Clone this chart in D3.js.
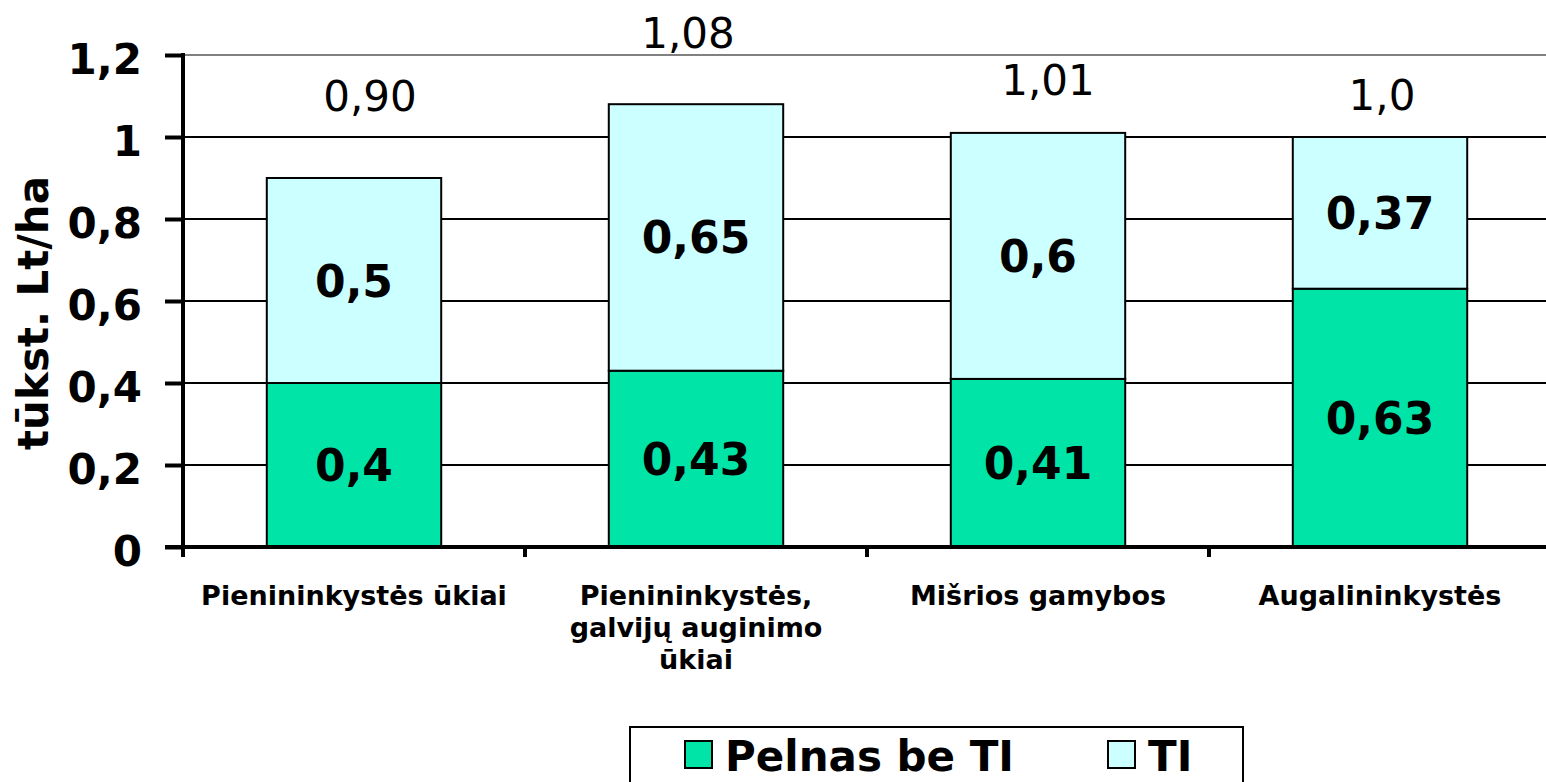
<!DOCTYPE html>
<html>
<head>
<meta charset="utf-8">
<script src="https://cdn.jsdelivr.net/npm/d3@7"></script>
<style>
  html, body { margin: 0; padding: 0; background: #fff; }
  svg { display: block; font-family: "DejaVu Sans", Verdana, sans-serif; }
</style>
</head>
<body>
<div id="container"></div>
<script>
/* DATA */
const categories = ["Pienininkystės ūkiai", "Pienininkystės,\ngalvijų auginimo\nūkiai", "Mišrios gamybos", "Augalininkystės"];
const pelnasBeTI = [0.4, 0.43, 0.41, 0.63];
const ti = [0.5, 0.65, 0.6, 0.37];
const pelnasLabels = ["0,4", "0,43", "0,41", "0,63"];
const tiLabels = ["0,5", "0,65", "0,6", "0,37"];
const totalLabels = ["0,90", "1,08", "1,01", "1,0"];
const yTicks = [0, 0.2, 0.4, 0.6, 0.8, 1, 1.2];
const yTickLabels = ["0", "0,2", "0,4", "0,6", "0,8", "1", "1,2"];
const seriesNames = ["Pelnas be TI", "TI"];

/* CONSTANTS */
const width = 1546, height = 782;
const colors = ["#00e4a8", "#ccffff"];
// hand-placed total labels in the original: [dx, gap above bar top]
const totalOffsets = [[16, 67], [-8, 56], [10, 38], [2, 27]];

const svg = d3.select("#container")
  .append("svg")
  .attr("width", width)
  .attr("height", height);

// scales
const x = d3.scaleBand()
  .domain(d3.range(categories.length))
  .range([183, 1551])
  .padding(0);
const barW = x.bandwidth() * 0.51;

const y = d3.scaleLinear()
  .domain([0, 1.2])
  .range([547, 55]);

// gridlines
svg.append("g")
  .selectAll("line")
  .data(yTicks.filter(d => d > 0))
  .join("line")
  .attr("x1", 183)
  .attr("x2", width)
  .attr("y1", d => y(d))
  .attr("y2", d => y(d))
  .attr("stroke", d => d === 1.2 ? "#808080" : "#000")
  .attr("stroke-width", 2);

// stacked bars
const rows = categories.map((c, i) => ({ i, pelnas: pelnasBeTI[i], ti: ti[i] }));
const stacked = d3.stack().keys(["pelnas", "ti"])(rows);
const segLabels = [pelnasLabels, tiLabels];

const layers = svg.append("g")
  .selectAll("g")
  .data(stacked)
  .join("g")
  .attr("fill", (d, k) => colors[k]);

layers.selectAll("rect")
  .data(d => d)
  .join("rect")
  .attr("x", d => x(d.data.i) + (x.bandwidth() - barW) / 2)
  .attr("y", d => y(d[1]))
  .attr("width", barW)
  .attr("height", d => y(d[0]) - y(d[1]))
  .attr("stroke", "#000")
  .attr("stroke-width", 2);

layers.each(function(layer, k) {
  d3.select(this).selectAll("text")
    .data(layer)
    .join("text")
    .attr("x", d => x(d.data.i) + x.bandwidth() / 2)
    .attr("y", d => (y(d[0]) + y(d[1])) / 2 + 16)
    .attr("text-anchor", "middle")
    .attr("fill", "#000")
    .attr("font-weight", "bold")
    .attr("font-size", 44)
    .text((d, i) => segLabels[k][i]);
});

// totals
svg.append("g")
  .selectAll("text")
  .data(rows)
  .join("text")
  .attr("x", d => x(d.i) + x.bandwidth() / 2 + totalOffsets[d.i][0])
  .attr("y", d => y(d.pelnas + d.ti) - totalOffsets[d.i][1])
  .attr("text-anchor", "middle")
  .attr("font-size", 42)
  .text(d => totalLabels[d.i]);

// y axis
const yAxis = d3.axisLeft(y)
  .tickValues(yTicks)
  .tickFormat((d, i) => yTickLabels[i])
  .tickSize(18)
  .tickPadding(23);

const gy = svg.append("g")
  .attr("transform", "translate(183,0)")
  .call(yAxis);
gy.select(".domain").remove();
gy.selectAll(".tick line").attr("stroke", "#000").attr("stroke-width", 4);
gy.selectAll(".tick text")
  .attr("font-size", 42)
  .attr("font-weight", "bold")
  .attr("font-family", "DejaVu Sans, Verdana, sans-serif")
  .attr("fill", "#000")
  .attr("dy", "0.45em");

svg.append("line")
  .attr("x1", 183).attr("x2", 183)
  .attr("y1", y(1.2) - 2).attr("y2", y(0) + 10)
  .attr("stroke", "#000").attr("stroke-width", 4);

// x axis
svg.append("line")
  .attr("x1", 165).attr("x2", width)
  .attr("y1", y(0)).attr("y2", y(0))
  .attr("stroke", "#000").attr("stroke-width", 4);

svg.append("g")
  .selectAll("line")
  .data(d3.range(categories.length))
  .join("line")
  .attr("x1", d => x(d)).attr("x2", d => x(d))
  .attr("y1", y(0)).attr("y2", y(0) + 10)
  .attr("stroke", "#000").attr("stroke-width", 4);

// category labels
svg.append("g")
  .selectAll("text")
  .data(categories)
  .join("text")
  .attr("x", (d, i) => x(i) + x.bandwidth() / 2)
  .attr("y", 605)
  .attr("text-anchor", "middle")
  .attr("font-size", 27)
  .attr("font-weight", "bold")
  .each(function(d) {
    const t = d3.select(this);
    const cx = t.attr("x");
    d.split("\n").forEach((line, j) => {
      t.append("tspan")
        .attr("x", cx)
        .attr("dy", j === 0 ? 0 : 32)
        .text(line);
    });
  });

// y title
svg.append("text")
  .attr("transform", "translate(48,313) rotate(-90)")
  .attr("text-anchor", "middle")
  .attr("font-size", 42)
  .attr("font-weight", "bold")
  .text("tūkst. Lt/ha");

// legend
const legend = svg.append("g");
legend.append("rect")
  .attr("x", 630).attr("y", 727)
  .attr("width", 613).attr("height", 70)
  .attr("fill", "#fff")
  .attr("stroke", "#000").attr("stroke-width", 2);

const legendX = [685, 1108];
const items = legend.selectAll("g.item")
  .data(seriesNames)
  .join("g")
  .attr("class", "item")
  .attr("transform", (d, i) => `translate(${legendX[i]},741)`);

items.append("rect")
  .attr("width", 27).attr("height", 27)
  .attr("fill", (d, i) => colors[i])
  .attr("stroke", "#000").attr("stroke-width", 2);

items.append("text")
  .attr("x", 40)
  .attr("y", 30)
  .attr("font-size", 42)
  .attr("font-weight", "bold")
  .text(d => d);
</script>
</body>
</html>
